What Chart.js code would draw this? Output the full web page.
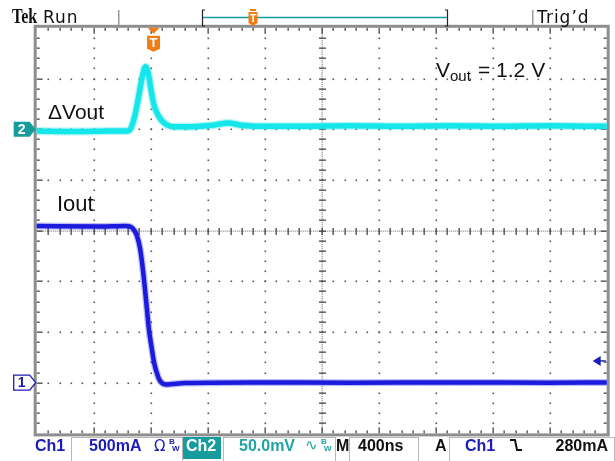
<!DOCTYPE html>
<html>
<head>
<meta charset="utf-8">
<script src="https://cdn.jsdelivr.net/npm/chart.js@4.4.0/dist/chart.umd.min.js"></script>
<style>
  html, body { margin: 0; padding: 0; background: #fff; }
  canvas { display: block; }
</style>
</head>
<body>
<canvas id="scope" width="615" height="461"></canvas>
<script>
(() => {
  "use strict";

  // horizontal: 400 ns/div, 10 divisions; vertical: 8 divisions
  const NS_PER_DIV = 400;
  const H_DIVS = 10;
  const V_DIVS = 8;
  const MA_PER_DIV = 500;   // Ch1
  const MV_PER_DIV = 50;    // Ch2
  const I_MIN = -500;       // Ch1 ground marker sits 3 div below centre
  const V_MIN = -300;       // Ch2 ground marker sits 2 div above centre
  const TRIG_NS = 820;
  const TRIG_ARROW_MA = 215;

  // Ch2: output voltage deviation (mV)
  const vout_ns = [0, 300, 510, 640, 662, 690, 718, 739, 764, 781, 802, 823, 851, 879, 914,
                   970, 1040, 1146, 1250, 1343, 1427, 1567, 1848, 2199, 2549, 2901, 3252, 3603, 4000];
  const vout_mv = [-1.7, -2.2, -1.7, -1.7, 1.3, 14, 34, 50.5, 61.5, 56.5, 39, 24, 14, 8.2, 4.2,
                   2.3, 2.3, 2.8, 4.2, 6.2, 4.2, 2.8, 2.8, 3.3, 2.8, 3.3, 2.8, 3.3, 2.8];

  // Ch1: load current (mA)
  const iout_ns = [0, 444, 620, 662, 683, 704, 725, 739, 757, 774, 788, 806, 823, 841, 858,
                   879, 907, 949, 1041, 1498, 2199, 2901, 3603, 4000];
  const iout_ma = [1545, 1540, 1545, 1535, 1506, 1447, 1328, 1190, 963, 717, 520, 352, 204, 106, 36,
                   -3, -18, -13, -3, 2, 0, 2, 0, 2];

  const toPoints = (xs, ys) => xs.map((x, i) => ({ x, y: ys[i] }));

  const SANS = "'Liberation Sans', Arial, sans-serif";
  const BLUE = "#1c1cb8";
  const TEAL = "#169c9c";
  const ORANGE = "#f07c14";

  const graticulePlugin = {
    id: "graticule",
    beforeDatasetsDraw(chart) {
      const { ctx, chartArea: a, scales } = chart;
      const px = (d) => scales.x.getPixelForValue(d * NS_PER_DIV);
      const py = (d) => scales.yI.getPixelForValue(I_MIN + d * MA_PER_DIV);
      ctx.save();

      // dotted major lines
      ctx.fillStyle = "#555";
      for (let i = 1; i < H_DIVS; i += 1) {
        if (i === H_DIVS / 2) continue;
        const x = Math.round(px(i));
        for (let m = 1; m < V_DIVS * 5; m += 1) {
          ctx.fillRect(x - 0.5, Math.round(py(m / 5)) - 0.5, 1.6, 1.6);
        }
      }
      for (let j = 1; j < V_DIVS; j += 1) {
        if (j === V_DIVS / 2) continue;
        const y = Math.round(py(j));
        for (let m = 1; m < H_DIVS * 5; m += 1) {
          ctx.fillRect(Math.round(px(m / 5)) - 0.5, y - 0.5, 1.6, 1.6);
        }
      }

      // centre cross with minor ticks
      const cx = Math.round(px(H_DIVS / 2));
      const cy = Math.round(py(V_DIVS / 2));
      ctx.fillStyle = "#888";
      for (let y = a.top; y < a.bottom; y += 2) ctx.fillRect(cx - 0.5, y, 1.3, 1);
      for (let x = a.left; x < a.right; x += 2) ctx.fillRect(x, cy - 0.5, 1, 1.3);
      ctx.fillStyle = "#444";
      for (let m = 1; m < V_DIVS * 5; m += 1) {
        const y = Math.round(py(m / 5));
        ctx.fillRect(cx - 3, y - 0.5, 7, 1.3);
      }
      for (let m = 1; m < H_DIVS * 5; m += 1) {
        const x = Math.round(px(m / 5));
        ctx.fillRect(x - 0.5, cy - 3, 1.3, 7);
      }

      // ticks on the frame
      for (let m = 1; m < H_DIVS * 5; m += 1) {
        const x = Math.round(px(m / 5));
        const len = m % 5 === 0 ? 6 : 3;
        ctx.fillRect(x - 0.5, a.top, 1.3, len);
        ctx.fillRect(x - 0.5, a.bottom - len, 1.3, len);
      }
      for (let m = 1; m < V_DIVS * 5; m += 1) {
        const y = Math.round(py(m / 5));
        const len = m % 5 === 0 ? 6 : 3;
        ctx.fillRect(a.left, y - 0.5, len, 1.3);
        ctx.fillRect(a.right - len, y - 0.5, len, 1.3);
      }

      ctx.strokeStyle = "#8e8e8e";
      ctx.lineWidth = 3;
      ctx.strokeRect(a.left - 1.5, a.top - 1.5, a.right - a.left + 3, a.bottom - a.top + 3);
      ctx.restore();
    }
  };

  function pentagon(ctx, tipX, cy, fill, stroke) {
    ctx.beginPath();
    ctx.moveTo(tipX - 22, cy - 7.5);
    ctx.lineTo(tipX - 6, cy - 7.5);
    ctx.lineTo(tipX, cy);
    ctx.lineTo(tipX - 6, cy + 7.5);
    ctx.lineTo(tipX - 22, cy + 7.5);
    ctx.closePath();
    ctx.fillStyle = fill;
    ctx.fill();
    if (stroke) {
      ctx.strokeStyle = stroke;
      ctx.lineWidth = 1.3;
      ctx.stroke();
    }
  }

  function tBadge(ctx, cx, top, w, h) {
    ctx.fillStyle = ORANGE;
    ctx.beginPath();
    ctx.moveTo(cx - w / 2, top);
    ctx.lineTo(cx + w / 2, top);
    ctx.lineTo(cx + w / 2, top + h - 3);
    ctx.lineTo(cx, top + h);
    ctx.lineTo(cx - w / 2, top + h - 3);
    ctx.closePath();
    ctx.fill();
    ctx.fillStyle = "#fff";
    ctx.font = `bold ${Math.round(h * 0.8)}px ${SANS}`;
    ctx.textAlign = "center";
    ctx.textBaseline = "middle";
    ctx.fillText("T", cx, top + h / 2);
    ctx.textAlign = "left";
    ctx.textBaseline = "alphabetic";
  }

  function box(ctx, x0, x1) {
    ctx.strokeStyle = "#b8b8b8";
    ctx.lineWidth = 1;
    ctx.strokeRect(x0 + 0.5, 437.5, x1 - x0, 26);
  }

  const overlayPlugin = {
    id: "scopeOverlay",
    afterDraw(chart) {
      const { ctx, chartArea: a, scales } = chart;
      ctx.save();

      // ---- top status bar
      ctx.fillStyle = "#111";
      ctx.save();
      ctx.translate(12, 23);
      ctx.scale(0.8, 1);
      ctx.font = `bold 20px 'Liberation Serif', serif`;
      ctx.fillText("Tek", 0, 0);
      ctx.restore();
      ctx.font = `17px 'DejaVu Sans', sans-serif`;
      ctx.letterSpacing = "1px";
      ctx.fillText("Run", 43, 23);
      ctx.fillText("Trig\u2019d", 537, 23);
      ctx.letterSpacing = "0px";
      ctx.fillStyle = "#999";
      ctx.fillRect(118, 10, 1.5, 16);
      ctx.fillRect(532, 10, 1.5, 16);

      ctx.strokeStyle = "#222";
      ctx.lineWidth = 1.2;
      ctx.beginPath();
      ctx.moveTo(205, 10); ctx.lineTo(202.5, 10); ctx.lineTo(202.5, 26); ctx.lineTo(205, 26);
      ctx.moveTo(445, 10); ctx.lineTo(447.5, 10); ctx.lineTo(447.5, 26); ctx.lineTo(445, 26);
      ctx.stroke();
      ctx.strokeStyle = TEAL;
      ctx.lineWidth = 1.5;
      ctx.beginPath();
      ctx.moveTo(203, 17.5);
      ctx.lineTo(447, 17.5);
      ctx.stroke();
      tBadge(ctx, 253, 12, 9, 14);
      ctx.fillStyle = ORANGE;
      ctx.fillRect(250, 9, 6, 2);

      // ---- trigger position marker
      const tx = scales.x.getPixelForValue(TRIG_NS);
      ctx.fillStyle = ORANGE;
      ctx.beginPath();
      ctx.moveTo(tx - 6, a.top);
      ctx.lineTo(tx + 6, a.top);
      ctx.lineTo(tx, a.top + 6);
      ctx.closePath();
      ctx.fill();
      tBadge(ctx, tx, a.top + 8, 13, 16);

      // ---- trigger level arrow
      const ay = scales.yI.getPixelForValue(TRIG_ARROW_MA);
      ctx.fillStyle = BLUE;
      ctx.beginPath();
      ctx.moveTo(a.right - 14, ay);
      ctx.lineTo(a.right - 6, ay - 5);
      ctx.lineTo(a.right - 6, ay + 5);
      ctx.closePath();
      ctx.fill();
      ctx.fillRect(a.right - 7, ay - 0.7, 6, 1.4);

      // ---- channel ground markers
      const y2 = scales.yV.getPixelForValue(0);
      pentagon(ctx, a.left - 1, y2, TEAL, null);
      ctx.fillStyle = "#fff";
      ctx.font = `bold 14px ${SANS}`;
      ctx.textAlign = "center";
      ctx.textBaseline = "middle";
      ctx.fillText("2", a.left - 15, y2 + 0.5);
      const y1 = scales.yI.getPixelForValue(0);
      pentagon(ctx, a.left - 1, y1, "#fff", BLUE);
      ctx.fillStyle = BLUE;
      ctx.fillText("1", a.left - 15, y1 + 0.5);
      ctx.textAlign = "left";
      ctx.textBaseline = "alphabetic";

      // ---- annotations
      ctx.fillStyle = "#111";
      ctx.font = `21px ${SANS}`;
      ctx.fillText("\u0394Vout", 48, 119);
      ctx.font = `22px ${SANS}`;
      ctx.fillText("Iout", 57, 211);
      ctx.font = `21px ${SANS}`;
      ctx.fillText("V", 436, 77);
      ctx.font = `15px ${SANS}`;
      ctx.fillText("out", 450, 81);
      ctx.font = `21px ${SANS}`;
      ctx.fillText("= 1.2 V", 478, 77);

      // ---- bottom status bar
      const base = 451;
      ctx.font = `bold 16px ${SANS}`;
      ctx.fillStyle = BLUE;
      ctx.fillText("Ch1", 35, base);
      box(ctx, 71, 182);
      ctx.fillText("500mA", 89, base);
      ctx.font = `15px 'DejaVu Sans', sans-serif`;
      ctx.fillText("\u03A9", 154, base);
      ctx.font = `bold 8px ${SANS}`;
      ctx.fillText("B", 169, base - 7);
      ctx.fillText("W", 172, base);

      ctx.fillStyle = TEAL;
      ctx.fillRect(183, 437, 38, 22);
      ctx.fillStyle = "#fff";
      ctx.font = `bold 16px ${SANS}`;
      ctx.fillText("Ch2", 186, base);

      box(ctx, 223, 335);
      ctx.fillStyle = "#20a4a4";
      ctx.fillText("50.0mV", 239, base);
      ctx.font = `15px 'DejaVu Sans', sans-serif`;
      ctx.fillText("\u223F", 305, base - 1);
      ctx.font = `bold 8px ${SANS}`;
      ctx.fillText("B", 321, base - 7);
      ctx.fillText("W", 324, base);

      ctx.fillStyle = "#111";
      ctx.font = `bold 16px ${SANS}`;
      ctx.fillText("M", 336, base);
      box(ctx, 349, 418);
      ctx.fillText("400ns", 358, base);
      ctx.fillText("A", 435, base);
      box(ctx, 449, 614);
      ctx.fillStyle = BLUE;
      ctx.fillText("Ch1", 465, base);
      ctx.strokeStyle = "#111";
      ctx.lineWidth = 2;
      ctx.beginPath();
      ctx.moveTo(510, 440);
      ctx.lineTo(515, 440);
      ctx.lineTo(517, 450);
      ctx.lineTo(522, 450);
      ctx.stroke();
      ctx.fillStyle = "#111";
      ctx.textAlign = "right";
      ctx.fillText("280mA", 608, base);

      ctx.restore();
    }
  };

  const ctx = document.getElementById("scope").getContext("2d");

  const trace = (label, pts, axis, color, width) => ({
    label,
    data: pts,
    yAxisID: axis,
    borderColor: color,
    borderWidth: width,
    pointRadius: 0,
    fill: false,
    cubicInterpolationMode: "monotone",
    borderCapStyle: "round",
    borderJoinStyle: "round"
  });

  const vPts = toPoints(vout_ns, vout_mv);
  const iPts = toPoints(iout_ns, iout_ma);

  new Chart(ctx, {
    type: "line",
    data: {
      datasets: [
        trace("Iout halo", iPts, "yI", "rgba(40, 40, 225, 0.3)", 7),
        trace("Iout", iPts, "yI", "#1616dc", 4.5),
        trace("dVout halo", vPts, "yV", "rgba(40, 230, 235, 0.35)", 8),
        trace("dVout", vPts, "yV", "#0ce6ea", 5.5)
      ]
    },
    options: {
      responsive: false,
      animation: false,
      devicePixelRatio: 1,
      layout: { padding: { left: 36.7, top: 27.8, right: 8.3, bottom: 27.6 } },
      scales: {
        x: { type: "linear", min: 0, max: H_DIVS * NS_PER_DIV, display: false },
        yI: { type: "linear", min: I_MIN, max: I_MIN + V_DIVS * MA_PER_DIV, display: false },
        yV: { type: "linear", min: V_MIN, max: V_MIN + V_DIVS * MV_PER_DIV, display: false }
      },
      plugins: {
        legend: { display: false },
        tooltip: { enabled: false }
      }
    },
    plugins: [graticulePlugin, overlayPlugin]
  });
})();
</script>
</body>
</html>
